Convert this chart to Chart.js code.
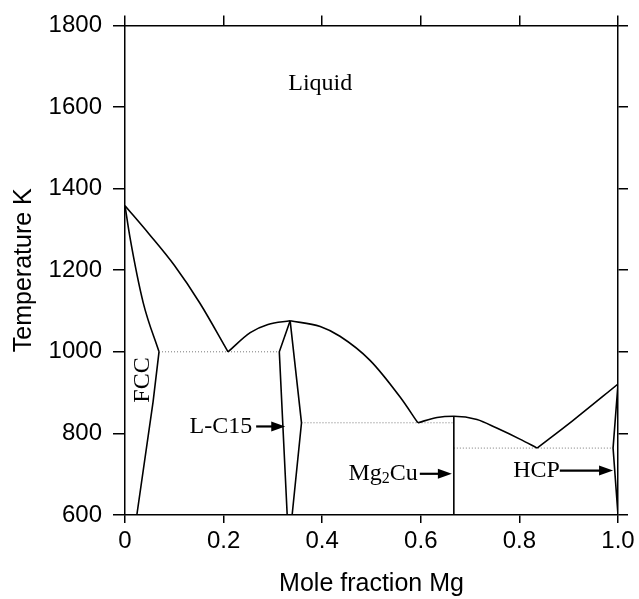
<!DOCTYPE html>
<html>
<head>
<meta charset="utf-8">
<script src="https://cdn.jsdelivr.net/npm/chart.js@4.4.0/dist/chart.umd.min.js"></script>
<style>
  body { margin: 0; background: #fff; }
  #wrap { width: 639px; height: 599px; }
</style>
</head>
<body>
<div id="wrap"><canvas id="myChart" width="639" height="599"></canvas></div>
<script>
// tick values / labels
const xTicks = [0, 0.2, 0.4, 0.6, 0.8, 1.0];
const xTickLabels = ['0', '0.2', '0.4', '0.6', '0.8', '1.0'];
const yTicks = [600, 800, 1000, 1200, 1400, 1600, 1800];

// liquidus pieces (mole fraction Mg, temperature K)
const liqCuX = [0, 0.05, 0.1, 0.152, 0.209];
const liqCuT = [1358, 1287, 1212, 1119, 1000];
const liqC15aX = [0.209, 0.254, 0.29, 0.335];
const liqC15aT = [1000, 1047, 1067, 1076];
const liqC15bX = [0.335, 0.396, 0.436, 0.497, 0.558, 0.594];
const liqC15bT = [1076, 1062, 1038, 979, 889, 826];
const liqMg2X = [0.594, 0.633, 0.667, 0.714, 0.754, 0.801, 0.836];
const liqMg2T = [826, 839, 842, 834, 813, 786, 764];
const liqMgX = [0.836, 0.909, 1.0];
const liqMgT = [764, 832, 921];

// solid phase boundaries
const fccSolidusX = [0, 0.01, 0.037, 0.069];
const fccSolidusT = [1358, 1281, 1120, 1000];
const fccSolvusX = [0.069, 0.057, 0.024];
const fccSolvusT = [1000, 878, 600];
const c15LeftX = [0.329, 0.313, 0.335];
const c15LeftT = [600, 1000, 1076];
const c15RightX = [0.335, 0.358, 0.339];
const c15RightT = [1076, 826, 600];
const mg2cuX = [0.667, 0.667];
const mg2cuT = [600, 842];
const hcpX = [1.0, 0.99, 1.0];
const hcpT = [921, 764, 600];

// eutectic lines (dotted)
const eut1X = [0.069, 0.313];
const eut1T = [1000, 1000];
const eut2X = [0.358, 0.667];
const eut2T = [826, 826];
const eut3X = [0.667, 0.99];
const eut3T = [764, 764];

function pts(xs, ys) {
  return xs.map((x, i) => ({ x: x, y: ys[i] }));
}

function curve(xs, ys, smooth) {
  return {
    data: pts(xs, ys),
    showLine: true,
    borderColor: '#000',
    borderWidth: 1.6,
    pointRadius: 0,
    tension: smooth ? 0.4 : 0,
    cubicInterpolationMode: smooth ? 'monotone' : 'default'
  };
}

function dotted(xs, ys) {
  return {
    data: pts(xs, ys),
    showLine: true,
    borderColor: '#777',
    borderWidth: 1,
    borderDash: [1, 2],
    pointRadius: 0,
    tension: 0
  };
}

// text labels on the diagram (data coordinates)
const notes = [
  { text: 'Liquid', x: 0.396, y: 1657, align: 'center' },
  { text: 'L-C15', x: 0.258, y: 817, align: 'right' },
  { text: 'HCP', x: 0.882, y: 709, align: 'right' }
];
const arrows = [
  { x0: 0.266, x1: 0.325, y: 817 },
  { x0: 0.598, x1: 0.663, y: 701 },
  { x0: 0.882, x1: 0.990, y: 709 }
];

const serif = '24px "Liberation Serif", "Times New Roman", serif';
const subFont = '16px "Liberation Serif", "Times New Roman", serif';

const notesPlugin = {
  id: 'notes',
  afterDatasetsDraw(chart) {
    const ctx = chart.ctx;
    const xs = chart.scales.x, ys = chart.scales.y;
    ctx.save();
    ctx.fillStyle = '#000';
    ctx.strokeStyle = '#000';
    ctx.font = serif;
    ctx.textBaseline = 'middle';
    notes.forEach(n => {
      ctx.textAlign = n.align;
      ctx.fillText(n.text, xs.getPixelForValue(n.x), ys.getPixelForValue(n.y));
    });

    // Mg2Cu with subscript
    const rx = xs.getPixelForValue(0.594), ry = ys.getPixelForValue(701);
    ctx.textAlign = 'left';
    ctx.font = serif;
    const wMg = ctx.measureText('Mg').width, wCu = ctx.measureText('Cu').width;
    ctx.font = subFont;
    const w2 = ctx.measureText('2').width;
    const sx = rx - (wMg + w2 + wCu);
    ctx.font = serif;
    ctx.fillText('Mg', sx, ry);
    ctx.font = subFont;
    ctx.fillText('2', sx + wMg, ry + 5);
    ctx.font = serif;
    ctx.fillText('Cu', sx + wMg + w2, ry);

    // FCC rotated
    ctx.save();
    ctx.translate(xs.getPixelForValue(0.0365), ys.getPixelForValue(931));
    ctx.rotate(-Math.PI / 2);
    ctx.textAlign = 'center';
    ctx.fillText('FCC', 0, 0);
    ctx.restore();

    // arrows
    arrows.forEach(a => {
      const x0 = xs.getPixelForValue(a.x0), x1 = xs.getPixelForValue(a.x1);
      const y = ys.getPixelForValue(a.y);
      ctx.lineWidth = 2.2;
      ctx.beginPath();
      ctx.moveTo(x0, y);
      ctx.lineTo(x1 - 10, y);
      ctx.stroke();
      ctx.beginPath();
      ctx.moveTo(x1, y);
      ctx.lineTo(x1 - 14, y - 5);
      ctx.lineTo(x1 - 14, y + 5);
      ctx.closePath();
      ctx.fill();
    });
    ctx.restore();
  }
};

const sans = { family: '"Liberation Sans", Arial, Helvetica, sans-serif', size: 24 };
const frameBorder = { display: true, color: '#000', width: 1.5 };

function fixedTicks(vals) {
  return function (scale) {
    scale.ticks = vals.map(v => ({ value: v }));
  };
}

new Chart(document.getElementById('myChart'), {
  type: 'scatter',
  data: {
    datasets: [
      curve(liqCuX, liqCuT, true),
      curve(liqC15aX, liqC15aT, true),
      curve(liqC15bX, liqC15bT, true),
      curve(liqMg2X, liqMg2T, true),
      curve(liqMgX, liqMgT, true),
      curve(fccSolidusX, fccSolidusT, true),
      curve(fccSolvusX, fccSolvusT, false),
      curve(c15LeftX, c15LeftT, false),
      curve(c15RightX, c15RightT, false),
      curve(mg2cuX, mg2cuT, false),
      curve(hcpX, hcpT, false),
      dotted(eut1X, eut1T),
      dotted(eut2X, eut2T),
      dotted(eut3X, eut3T)
    ]
  },
  options: {
    responsive: false,
    animation: false,
    layout: { padding: 0 },
    plugins: { legend: { display: false }, tooltip: { enabled: false } },
    scales: {
      x: {
        type: 'linear', position: 'bottom', min: 0, max: 1,
        afterBuildTicks: fixedTicks(xTicks),
        afterFit: s => { s.height = 84; },
        border: frameBorder,
        grid: { drawOnChartArea: false, drawTicks: true, tickLength: 8, color: '#000', lineWidth: 1.5 },
        ticks: {
          color: '#000', font: sans, padding: 4, maxRotation: 0,
          callback: v => xTickLabels[xTicks.indexOf(v)]
        },
        title: { display: true, text: 'Mole fraction Mg', color: '#000', font: { family: sans.family, size: 25 }, padding: { top: 0, bottom: 0 } }
      },
      x2: {
        type: 'linear', position: 'top', min: 0, max: 1,
        afterBuildTicks: fixedTicks(xTicks),
        afterFit: s => { s.height = 18; },
        border: frameBorder,
        grid: { drawOnChartArea: false, drawTicks: true, tickLength: 10, color: '#000', lineWidth: 1.5 },
        ticks: { display: false }
      },
      y: {
        type: 'linear', position: 'left', min: 600, max: 1800,
        afterBuildTicks: fixedTicks(yTicks),
        afterFit: s => { s.width = 125; },
        border: frameBorder,
        grid: { drawOnChartArea: false, drawTicks: true, tickLength: 12, color: '#000', lineWidth: 1.5 },
        ticks: { color: '#000', font: sans, padding: 11, callback: v => String(v) },
        title: { display: true, text: 'Temperature K', color: '#000', font: { family: sans.family, size: 25 }, padding: { top: 9, bottom: 0 } }
      },
      y2: {
        type: 'linear', position: 'right', min: 600, max: 1800,
        afterBuildTicks: fixedTicks(yTicks),
        afterFit: s => { s.width = 21; },
        border: frameBorder,
        grid: { drawOnChartArea: false, drawTicks: true, tickLength: 10, color: '#000', lineWidth: 1.5 },
        ticks: { display: false }
      }
    }
  },
  plugins: [notesPlugin]
});
</script>
</body>
</html>
